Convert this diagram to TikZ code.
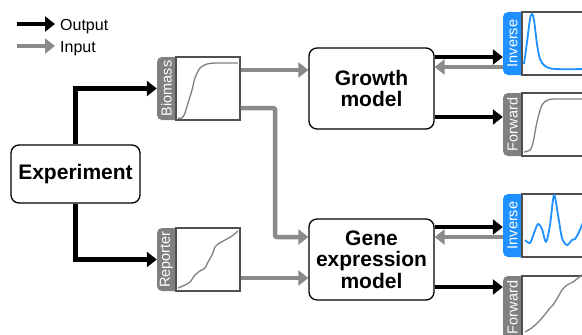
\documentclass[tikz,border=0pt]{standalone}
\usepackage{fontspec}
\setmainfont{Liberation Sans}
\usetikzlibrary{arrows.meta}
\definecolor{tabgray}{RGB}{128,128,128}
\definecolor{argray}{RGB}{138,138,138}
\definecolor{framec}{RGB}{80,80,80}
\definecolor{bluec}{RGB}{30,144,255}
\newcommand\mypanel[5]{%
  \node[tabshape, fill=#5] (#1tab) at ({#2+13},{#3+31.5}) {};
  \node[plotbox] (#1plot) at ({#2+51},{#3+31.5}) {};
  \node[tablabel] (#1lbl) at ({#2+9.5},{#3+31.5}) {#4};
}
\begin{document}
\begin{tikzpicture}[x=1pt,y=-1pt,
  outarrow/.style={line width=4.5pt, black, -{Triangle[length=10pt,width=15pt]}},
  inarrow/.style={line width=4.5pt, argray, -{Triangle[length=10pt,width=15pt]}},
  model/.style={draw, line width=1.3pt, rounded corners=8pt, fill=white, align=center,
    font=\fontsize{21}{21.5}\selectfont\bfseries, inner sep=0pt},
  plotbox/.style={draw=framec, line width=1.2pt, fill=white, minimum width=64pt,
    minimum height=63pt, inner sep=0pt},
  tabshape/.style={rectangle, rounded corners=5pt, minimum width=26pt, minimum height=63pt, inner sep=0pt},
  tablabel/.style={rotate=90, text=white, font=\fontsize{14.5}{15}\selectfont, inner sep=0pt},
  graycurve/.style={line width=1.3pt, tabgray, line join=round},
  bluecurve/.style={line width=1.8pt, bluec, line join=round},
  legtext/.style={anchor=base west, inner sep=0pt, font=\fontsize{16}{18}\selectfont}
]
\useasboundingbox (0,0) rectangle (582,335);
\clip (0,0) rectangle (582,335);

% legend
\coordinate (lo1) at (17,24);
\coordinate (lo2) at (55,24);
\coordinate (li1) at (17,46);
\coordinate (li2) at (55,46);
\draw[outarrow] (lo1) -- (lo2);
\draw[inarrow] (li1) -- (li2);
\node[legtext] (louttxt) at (60,30) {Output};
\node[legtext] (linptxt) at (60,52) {Input};

% boxes
\node[model, minimum width=129pt, minimum height=58pt] (exp) at (75.5,174) {Experiment};
\node[model, minimum width=125pt, minimum height=81pt] (growth) at (371.5,88.5) {Growth\\model};
\node[model, minimum width=125pt, minimum height=81pt] (gene) at (371.5,259.5) {Gene\\expression\\model};

% panels
\mypanel{bio}{157}{57}{Biomass}{tabgray}
\mypanel{rep}{157}{228}{Reporter}{tabgray}
\mypanel{invA}{503}{12}{Inverse}{bluec}
\mypanel{fwdA}{503}{93}{Forward}{tabgray}
\mypanel{invB}{503}{194}{Inverse}{bluec}
\mypanel{fwdB}{503}{276}{Forward}{tabgray}

% curves
\draw[graycurve] plot[smooth] coordinates {(178,118) (182,118) (185,113) (188,103) (192,90) (195,78) (200,68) (207,64) (217,63) (238,63)};
\draw[graycurve] plot[smooth] coordinates {(178,288) (185,285) (190,282) (195,275) (200,271) (205,268) (208,262) (212,255) (215,247) (218,244) (225,240) (232,236) (238,231)};
\draw[bluecurve] plot[smooth] coordinates {(524,64) (527,42) (530,19) (532,14) (534,20) (537,44) (540,59) (545,66) (555,69) (590,69)};
\draw[graycurve] plot[smooth] coordinates {(524,152) (530,150) (533,143) (537,122) (542,105) (548,100) (556,99) (590,99)};
\draw[bluecurve] plot[smooth] coordinates {(525,240) (530,243) (534,233) (538,224) (542,229) (546,242) (550,225) (554,195) (558,215) (562,238) (567,245) (572,240) (575,239) (579,232) (584,220)};
\draw[graycurve] plot[smooth] coordinates {(525,332) (533,327) (542,318) (550,308) (553,305) (558,297) (562,290) (567,285) (573,282) (582,275) (590,270)};

% experiment outputs
\draw[outarrow] (exp.north) |- (biotab.west);
\draw[outarrow] (exp.south) |- (reptab.west);

% inputs to models
\coordinate (elbow) at (275,237);
\draw[inarrow] ([yshift=18.5pt]bioplot.east) -- ([yshift=18.5pt]bioplot.east -| growth.west);
\draw[inarrow, rounded corners=2pt] ([yshift=-19.5pt]bioplot.east) -| (elbow) -- (elbow -| gene.west);
\draw[inarrow] ([yshift=-18.5pt]repplot.east) -- ([yshift=-18.5pt]repplot.east -| gene.west);

% model outputs
\draw[inarrow] ([yshift=21.5pt]growth.east -| invAtab.west) -- ([yshift=21.5pt]growth.east);
\draw[outarrow] ([yshift=31.5pt]growth.east) -- ([yshift=31.5pt]growth.east -| invAtab.west);
\draw[outarrow] ([yshift=-28.5pt]growth.east) -- ([yshift=-28.5pt]growth.east -| fwdAtab.west);
\draw[inarrow] ([yshift=22.5pt]gene.east -| invBtab.west) -- ([yshift=22.5pt]gene.east);
\draw[outarrow] ([yshift=32.5pt]gene.east) -- ([yshift=32.5pt]gene.east -| invBtab.west);
\draw[outarrow] ([yshift=-27.5pt]gene.east) -- ([yshift=-27.5pt]gene.east -| fwdBtab.west);
\end{tikzpicture}
\end{document}
